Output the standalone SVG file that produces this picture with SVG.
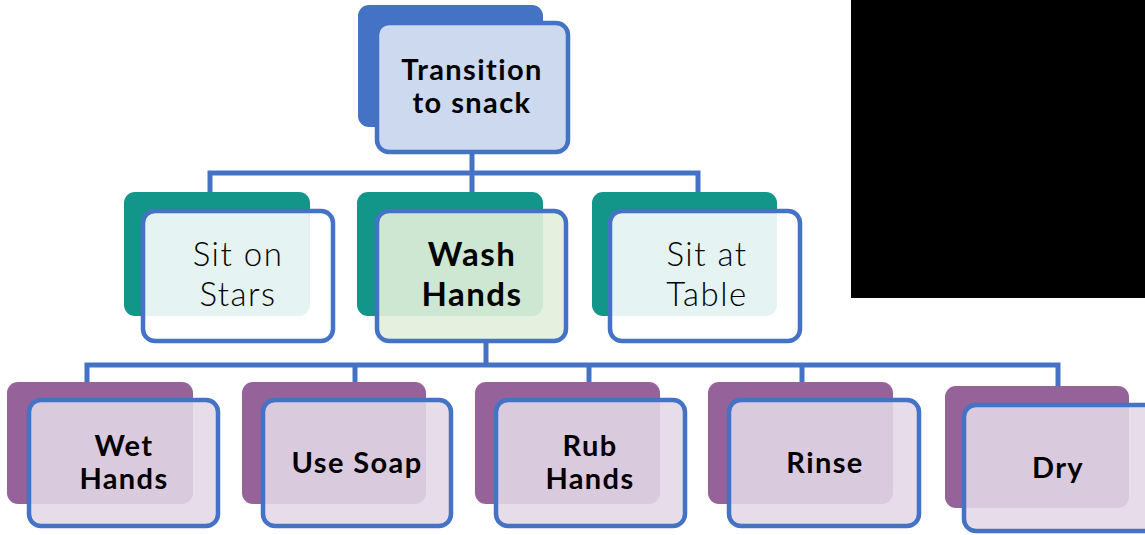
<svg xmlns="http://www.w3.org/2000/svg" width="1145" height="535" viewBox="0 0 1145 535">
<style>
.bt{fill:#4472C4}
.tl{fill:#129689}
.pu{fill:#956399}
.fr{stroke:#4472C4;stroke-width:4.5}
.ftop{fill:#CDD9EE}
.fw{fill:#FFFFFF;fill-opacity:0.89}
.fg{fill:#E2EFDA;fill-opacity:0.9}
.fp{fill:#E4D8E7;fill-opacity:0.88}
.c{fill:none;stroke:#4472C4;stroke-width:5}
text{font-family:Lato,"Open Sans",sans-serif;fill:#000;text-anchor:middle}
.b{font-weight:700;font-size:29px;letter-spacing:1.4px}
.bw{font-weight:700;font-size:33px;letter-spacing:1.5px}
.r{font-weight:300;font-size:33px;letter-spacing:1.5px}
</style>
<rect width="1145" height="535" fill="#fff"/>
<g id="connectors">
<path class="c" d="M472 154V173M210 210V173H698V210M472 173V209"/>
<path class="c" d="M486 343V365M87 398V365H1058V403M355 365V398M589 365V398M802 365V398"/>
</g>
<g id="n-top">
<rect class="bt" x="358" y="5" width="185" height="122" rx="11"/>
<rect class="fr ftop" x="377" y="23" width="191" height="129" rx="12"/>
<text class="b"><tspan x="472" y="80">Transition</tspan><tspan x="472" y="113">to snack</tspan></text>
</g>
<g id="n-sit-stars">
<rect class="tl" x="124" y="192" width="186" height="124" rx="11"/>
<rect class="fr fw" x="143" y="211" width="190" height="130" rx="12"/>
<text class="r"><tspan x="238" y="266">Sit on</tspan><tspan x="238" y="306">Stars</tspan></text>
</g>
<g id="n-wash">
<rect class="tl" x="357" y="192" width="186" height="124" rx="11"/>
<rect class="fr fg" x="377" y="211" width="189" height="130" rx="12"/>
<text class="bw"><tspan x="472" y="266">Wash</tspan><tspan x="472" y="306">Hands</tspan></text>
</g>
<g id="n-sit-table">
<rect class="tl" x="592" y="192" width="185" height="124" rx="11"/>
<rect class="fr fw" x="610" y="211" width="190" height="130" rx="12"/>
<text class="r"><tspan x="707" y="266">Sit at</tspan><tspan x="707" y="306">Table</tspan></text>
</g>
<g id="n-wet">
<rect class="pu" x="7" y="382" width="186" height="122" rx="11"/>
<rect class="fr fp" x="29" y="400" width="189" height="126" rx="12"/>
<text class="b"><tspan x="124" y="456">Wet</tspan><tspan x="124" y="489">Hands</tspan></text>
</g>
<g id="n-soap">
<rect class="pu" x="242" y="382" width="184" height="122" rx="11"/>
<rect class="fr fp" x="263" y="400" width="188" height="126" rx="12"/>
<text class="b" x="357" y="473">Use Soap</text>
</g>
<g id="n-rub">
<rect class="pu" x="475" y="382" width="185" height="122" rx="11"/>
<rect class="fr fp" x="496" y="400" width="189" height="126" rx="12"/>
<text class="b"><tspan x="590" y="456">Rub</tspan><tspan x="590" y="489">Hands</tspan></text>
</g>
<g id="n-rinse">
<rect class="pu" x="708" y="382" width="185" height="122" rx="11"/>
<rect class="fr fp" x="729" y="400" width="190" height="126" rx="12"/>
<text class="b" x="825" y="473">Rinse</text>
</g>
<g id="n-dry">
<rect class="pu" x="945" y="386" width="184" height="122" rx="11"/>
<rect class="fr fp" x="964" y="405" width="192" height="126" rx="12"/>
<text class="b" x="1058" y="478">Dry</text>
</g>
<rect x="851" y="0" width="294" height="298" fill="#000"/>
</svg>
